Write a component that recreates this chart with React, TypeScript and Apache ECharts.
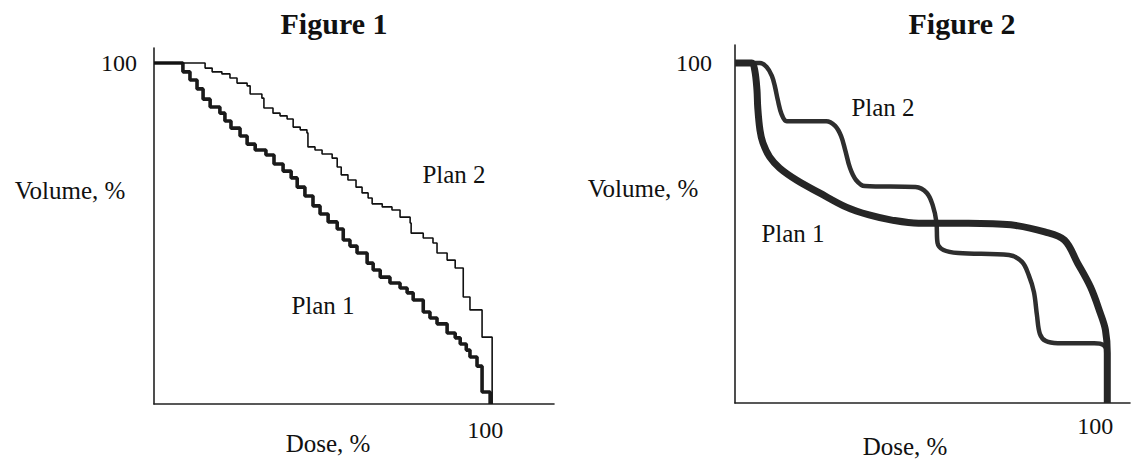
import React, { useEffect, useRef } from "react";
import * as echarts from "echarts";

// Figure 1 (stepped DVH curves)
const fig1Plan1Dose = [0, 8.6, 10.7, 12.8, 14.6, 16.7, 19.6, 21.1, 22.9, 25.6, 27.7, 30.1, 33.3, 35.7, 38.4, 40.8, 42.6, 44.9, 47.3, 49.4, 51.8, 54.5, 56.3, 58.3, 60.4, 63.4, 65.2, 67.3, 70.2, 73.2, 75.3, 77.1, 80.1, 82.1, 84.2, 87.2, 89.6, 91.1, 92.9, 94.0, 96.1, 97.6, 100];
const fig1Plan1Volume = [100, 97.4, 95.0, 92.4, 89.4, 87.1, 85.3, 83.0, 80.9, 78.6, 76.2, 74.5, 73.0, 70.4, 68.3, 66.3, 63.6, 61.0, 58.1, 55.7, 53.4, 51.3, 48.1, 46.3, 44.3, 41.3, 39.3, 37.2, 35.5, 34.0, 32.6, 30.5, 27.0, 25.2, 23.5, 20.8, 19.4, 17.6, 15.8, 13.8, 11.1, 3.5, 0];

const fig1Plan2Dose = [0, 15.2, 17.3, 20.2, 22.6, 24.7, 27.7, 28.6, 32.1, 32.7, 35.4, 37.5, 39.6, 41.4, 43.5, 45.5, 45.8, 47.9, 50.0, 53.0, 54.5, 55.7, 57.7, 60.1, 61.9, 63.7, 64.9, 67.9, 70.8, 73.2, 76.2, 76.5, 80.1, 83.0, 84.2, 87.2, 89.6, 92.0, 94.0, 97.6, 100.6];
const fig1Plan2Volume = [100, 98.5, 97.4, 96.8, 95.6, 94.1, 93.3, 90.9, 89.7, 86.8, 85.3, 84.5, 83.6, 81.2, 80.4, 79.5, 75.4, 74.5, 73.3, 72.1, 69.5, 67.2, 65.7, 63.6, 61.9, 60.4, 58.7, 57.8, 56.9, 54.8, 53.1, 50.1, 48.7, 47.2, 44.3, 42.2, 39.9, 31.4, 27.6, 19.6, 0];

// Figure 2 (smooth DVH curves)
const fig2Plan1Dose = [0, 4.5, 5.3, 5.9, 6.1, 6.7, 7.5, 9.3, 12.0, 16.5, 22.7, 29.9, 36.0, 42.1, 49.3, 62.7, 74.1, 83.2, 88.5, 92.0, 95.5, 98.1, 99.5, 100, 100];
const fig2Plan1Volume = [100, 100, 97.9, 92.1, 87.1, 80.3, 76.5, 72.4, 69.1, 65.6, 61.8, 57.6, 55.3, 53.8, 52.9, 52.9, 52.4, 50.3, 47.9, 41.2, 34.1, 26.5, 21.5, 14.7, 0];

const fig2Plan2Dose = [0, 6.7, 8.5, 9.9, 10.7, 11.5, 12.5, 13.9, 24.5, 26.9, 28.5, 29.6, 30.9, 32.5, 34.9, 48.5, 51.5, 53.1, 54.1, 54.4, 56.0, 60.0, 73.6, 77.1, 78.9, 80.3, 81.1, 81.9, 83.5, 86.7, 96.5, 98.9, 100, 100];
const fig2Plan2Volume = [100, 100, 98.8, 96.2, 93.2, 89.1, 85.0, 82.9, 82.9, 81.5, 78.5, 74.4, 69.1, 65.6, 63.8, 63.5, 61.8, 58.2, 53.2, 47.1, 45.0, 44.1, 43.5, 41.5, 37.6, 32.6, 25.9, 20.3, 18.2, 17.6, 17.6, 17.1, 14.7, 0];

const tickLabels = ["100"];
const titles = ["Figure 1", "Figure 2"];
const planNames = ["Plan 1", "Plan 2"];
const axisNames = ["Dose, %", "Volume, %"];

const zip = (xs: number[], ys: number[]) => xs.map((x, i) => [x, ys[i]]);

const FONT = "'Liberation Serif', 'Times New Roman', serif";
const INK = "#111";

export default function App() {
  const ref = useRef<HTMLDivElement>(null);

  useEffect(() => {
    if (!ref.current) return;
    const chart = echarts.init(ref.current, undefined, { renderer: "svg" });

    const labelFmt = (v: number) => (Math.abs(v - 100) < 1e-6 ? tickLabels[0] : "");
    const axisLine = { show: true, lineStyle: { color: "#222", width: 1.6 } };

    const mkX = (gridIndex: number, max: number, margin: number, padRight: number) => ({
      type: "value",
      gridIndex,
      min: 0,
      max,
      interval: 100,
      axisLine,
      axisTick: { show: false },
      splitLine: { show: false },
      axisLabel: {
        formatter: labelFmt,
        fontFamily: FONT,
        fontSize: 24,
        color: INK,
        margin,
        padding: [0, padRight, 0, 0],
        showMinLabel: false,
      },
    });
    const mkY = (gridIndex: number, max: number, margin: number) => ({
      type: "value",
      gridIndex,
      min: 0,
      max,
      interval: 100,
      axisLine,
      axisTick: { show: false },
      splitLine: { show: false },
      axisLabel: {
        formatter: labelFmt,
        fontFamily: FONT,
        fontSize: 24,
        color: INK,
        margin,
        showMinLabel: false,
      },
    });

    const txt = (text: string, x: number, y: number, size = 24, bold = false) => ({
      type: "text",
      x,
      y,
      style: {
        text,
        fontFamily: FONT,
        fontSize: size,
        fontWeight: bold ? "bold" : "normal",
        fill: INK,
        align: "center",
        verticalAlign: "middle",
      },
    });

    chart.setOption({
      animation: false,
      backgroundColor: "#fff",
      grid: [
        { left: 154, top: 48, width: 400, height: 356, containLabel: false },
        { left: 735, top: 45, width: 398, height: 358, containLabel: false },
      ],
      xAxis: [mkX(0, 119, 14, 10), mkX(1, 106.1, 11, 24)],
      yAxis: [mkY(0, 104.4, 17), mkY(1, 105.3, 23)],
      series: [
        {
          type: "line",
          name: planNames[0] + " (Figure 1)",
          xAxisIndex: 0,
          yAxisIndex: 0,
          step: "end",
          showSymbol: false,
          data: zip(fig1Plan1Dose, fig1Plan1Volume),
          lineStyle: { color: "#1a1a1a", width: 3.6 },
        },
        {
          type: "line",
          name: planNames[1] + " (Figure 1)",
          xAxisIndex: 0,
          yAxisIndex: 0,
          step: "end",
          showSymbol: false,
          data: zip(fig1Plan2Dose, fig1Plan2Volume),
          lineStyle: { color: "#111", width: 1.6 },
        },
        {
          type: "line",
          name: planNames[1] + " (Figure 2)",
          xAxisIndex: 1,
          yAxisIndex: 1,
          smooth: 0.35,
          showSymbol: false,
          data: zip(fig2Plan2Dose, fig2Plan2Volume),
          lineStyle: { color: "#2e2e2e", width: 4.5 },
        },
        {
          type: "line",
          name: planNames[0] + " (Figure 2)",
          xAxisIndex: 1,
          yAxisIndex: 1,
          smooth: 0.35,
          showSymbol: false,
          data: zip(fig2Plan1Dose, fig2Plan1Volume),
          lineStyle: { color: "#262626", width: 7 },
        },
      ],
      graphic: [
        txt(titles[0], 334, 23, 30, true),
        txt(axisNames[1], 70, 190, 25),
        txt(planNames[1], 454, 174, 25),
        txt(planNames[0], 323, 305, 25),
        txt(axisNames[0], 328, 443, 25),
        txt(titles[1], 962, 23, 30, true),
        txt(axisNames[1], 643, 188, 25),
        txt(planNames[1], 883, 107, 25),
        txt(planNames[0], 793, 233, 25),
        txt(axisNames[0], 905, 446, 25),
      ],
    });

    return () => chart.dispose();
  }, []);

  return (
    <div
      ref={ref}
      style={{ position: "fixed", left: 0, top: 0, width: 1133, height: 461, background: "#fff" }}
    />
  );
}
